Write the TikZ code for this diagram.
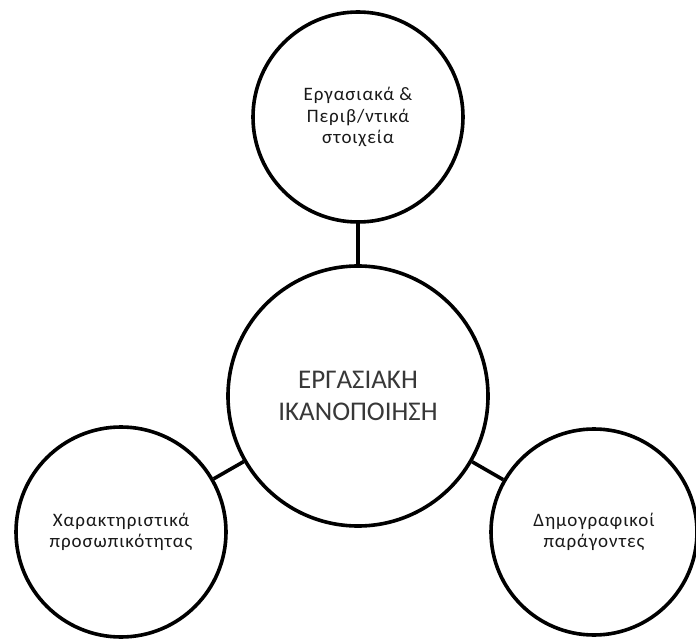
\documentclass[tikz,border=0pt]{standalone}
\usepackage{fontspec}
\setmainfont{Carlito}
\newfontfamily\smallgr[LetterSpace=5]{Carlito}
\begin{document}
\begin{tikzpicture}[x=1pt,y=-1pt,
  bubble/.style={circle,draw=black,line width=3.6pt,fill=white,inner sep=0pt,align=center},
  link/.style={line width=3.6pt,draw=black},
  sattext/.style={font=\smallgr\fontsize{19}{21.5}\selectfont,text=black!90},
  maintext/.style={font=\fontsize{27}{32}\selectfont,text=black!78}]
\clip (0,0) rectangle (696,639);
\node[bubble,minimum size=260pt,maintext] (c) at (358,396) {ΕΡΓΑΣΙΑΚΗ\\ΙΚΑΝΟΠΟΙΗΣΗ};
\node[bubble,minimum size=210pt,sattext] (t) at (358,117) {Εργασιακά \&\\Περιβ/ντικά\\στοιχεία};
\node[bubble,minimum size=210pt,sattext] (l) at (121,532) {Χαρακτηριστικά\\προσωπικότητας};
\node[bubble,minimum size=206pt,sattext] (r) at (594,532) {Δημογραφικοί\\παράγοντες};
\draw[link] (c) -- (t);
\draw[link] (c) -- (l);
\draw[link] (c) -- (r);
\end{tikzpicture}
\end{document}
